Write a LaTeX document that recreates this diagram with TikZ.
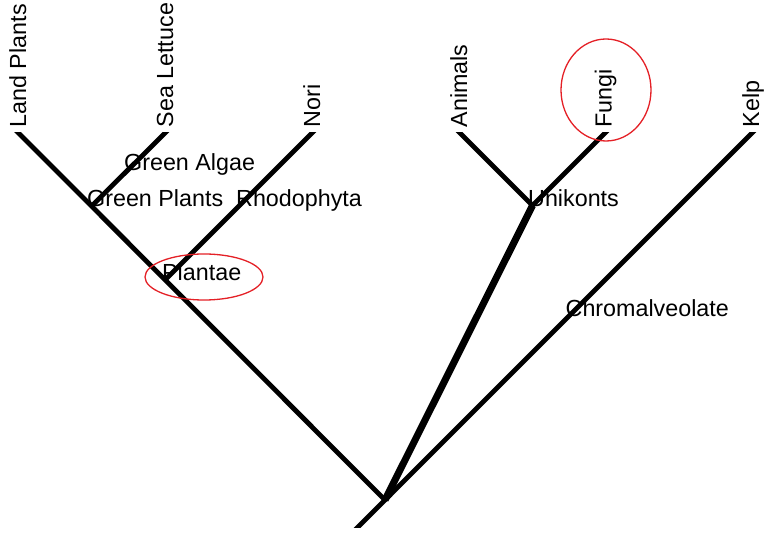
\documentclass[tikz,border=0pt]{standalone}
\usepackage{fontspec}
\setmainfont{Liberation Sans}
\usetikzlibrary{shapes.geometric}
\definecolor{ringred}{RGB}{228,32,38}
\begin{document}
\begin{tikzpicture}[x=1pt,y=1pt,
  branch/.style={line width=4.8pt,line cap=butt},
  stem/.style={line width=7pt,line cap=butt},
  leaflabel/.style={rotate=90,anchor=base west,inner sep=0pt,font=\fontsize{23.3}{28}\selectfont},
  cladelabel/.style={anchor=base west,inner sep=0pt,font=\fontsize{23.3}{28}\selectfont},
  ring/.style={draw=ringred,line width=1.3pt,ellipse,inner sep=0pt}]
\useasboundingbox (0,0) rectangle (770,535);
% tree points
\coordinate (LP) at (18.5,402);
\coordinate (SL) at (165,402);
\coordinate (NO) at (312,402);
\coordinate (AN) at (460,402);
\coordinate (FU) at (605,402);
\coordinate (KE) at (752,402);
\coordinate (R) at (385,35);
\coordinate (B) at (358,8);
\coordinate (GP) at (91.75,329);
\coordinate (PL) at (165.25,255.25);
\coordinate (U) at (532.5,329.5);
\begin{scope}
\clip (0,8) rectangle (770,402);
\draw[branch,shorten <=-8pt,shorten >=-8pt] (B) -- (R);
\draw[branch,shorten >=-8pt] (R) -- (LP);
\draw[branch,shorten >=-8pt] (GP) -- (SL);
\draw[branch,shorten >=-8pt] (PL) -- (NO);
\draw[branch,shorten >=-8pt] (R) -- (KE);
\draw[stem] (R) -- (U);
\draw[branch,shorten >=-8pt] (U) -- (AN);
\draw[branch,shorten >=-8pt] (U) -- (FU);
\end{scope}
% leaf labels
\node[leaflabel] (tLP) at (26,407.5) {Land Plants};
\node[leaflabel] (tSL) at (173,407.5) {Sea Lettuce};
\node[leaflabel] (tNO) at (320,407.5) {Nori};
\node[leaflabel] (tAN) at (467,407.5) {Animals};
\node[leaflabel] (tFU) at (611.5,407.5) {Fungi};
\node[leaflabel] (tKE) at (759,407.5) {Kelp};
% clade labels
\node[cladelabel] (tGA) at (124,364) {Green Algae};
\node[cladelabel] (tGP) at (87,328) {Green Plants};
\node[cladelabel] (tRH) at (236,328) {Rhodophyta};
\node[cladelabel] (tPL) at (162,254) {Plantae};
\node[cladelabel] (tUN) at (528,328) {Unikonts};
\node[cladelabel] (tCH) at (565.5,218) {Chromalveolate};
% red rings
\node[ring,minimum width=118pt,minimum height=46pt] (ring1) at (204,258) {};
\node[ring,minimum width=90pt,minimum height=102pt] (ring2) at (606,445) {};
\end{tikzpicture}
\end{document}
